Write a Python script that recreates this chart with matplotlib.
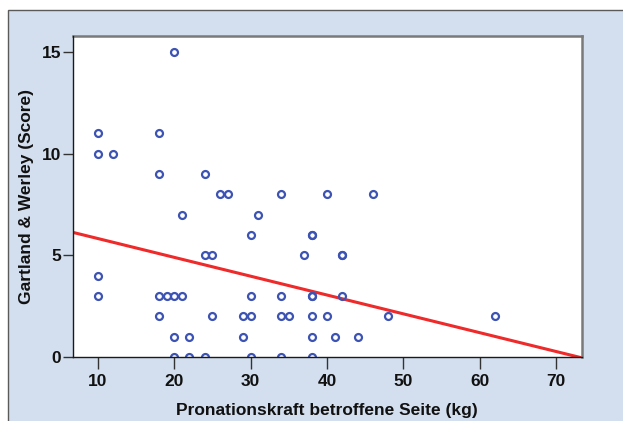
import matplotlib
matplotlib.use("Agg")
import matplotlib.pyplot as plt
from matplotlib.patches import Rectangle
import numpy as np

# Data: (Pronationskraft kg, Gartland & Werley score)
force = [10, 10, 12, 10, 10,
         18, 18, 18, 18, 20,
         19, 20, 21, 21, 20, 22,
         20, 22, 24, 24, 26, 27,
         24, 25, 25, 30, 31, 30,
         29, 30, 29, 30, 34, 34,
         34, 35, 34, 37, 38, 38,
         38, 38, 38, 38, 38, 40,
         40, 41, 42, 42, 42, 44,
         46, 48, 62]
score = [11, 10, 10, 4, 3,
         11, 9, 3, 2, 15,
         3, 3, 3, 7, 1, 1,
         0, 0, 0, 9, 8, 8,
         5, 5, 2, 6, 7, 3,
         2, 2, 1, 0, 8, 3,
         2, 2, 0, 5, 6, 6,
         3, 3, 2, 1, 0, 8,
         2, 1, 5, 5, 3, 1,
         8, 2, 2]

x_ticks = [10, 20, 30, 40, 50, 60, 70]
y_ticks = [0, 5, 10, 15]
x_label = "Pronationskraft betroffene Seite (kg)"
y_label = "Gartland & Werley (Score)"

# Regression line as drawn in the reference (intercept, slope)
fit_intercept = 6.75
fit_slope = -0.0926

plt.rcParams['font.family'] = ['Liberation Sans', 'DejaVu Sans']

W, H = 623, 421
fig = plt.figure(figsize=(W / 100, H / 100), dpi=100)
fig.patch.set_facecolor('white')
panel = Rectangle((7.5 / W, -0.01), 1.02, 1 - 10.5 / H + 0.01,
                  transform=fig.transFigure, facecolor='#d3dfee',
                  edgecolor='#5a5a5a', linewidth=1.0, zorder=-10)
fig.patches.append(panel)

ax = fig.add_axes([72.5 / W, 1 - 357 / H, (581.5 - 72.5) / W, (357 - 35.5) / H])
ax.set_facecolor('white')
ax.set_zorder(1)

xlim = (6.7, 73.3)
ylim = (0, 15.8)
ax.set_xlim(*xlim)
ax.set_ylim(*ylim)

xs = np.array(xlim)
ax.plot(xs, fit_intercept + fit_slope * xs, color='#ee2a2a', lw=2.2, zorder=2,
        solid_capstyle='butt')

ax.plot(force, score, linestyle='none', marker='o', markersize=5.0,
        markerfacecolor='none', markeredgecolor='#3d53b4', markeredgewidth=1.6,
        zorder=3, clip_on=True)

for side in ['left', 'bottom']:
    ax.spines[side].set_color('#1a1a1a')
    ax.spines[side].set_linewidth(1.0)
    ax.spines[side].set_zorder(4)
for side in ['top', 'right']:
    ax.spines[side].set_color('#7a7a7a')
    ax.spines[side].set_linewidth(1.8)

ax.set_xticks(x_ticks)
ax.set_yticks(y_ticks)
ax.tick_params(axis='x', direction='out', length=8.5, width=1.0, color='#333333',
               labelsize=12.5, pad=4)
ax.tick_params(axis='y', direction='out', length=7.5, width=1.0, color='#333333',
               labelsize=12.5, pad=0.5)
for lab in ax.get_xticklabels() + ax.get_yticklabels():
    lab.set_fontweight('bold')
    lab.set_color('#111111')

ax.set_xlabel(x_label, fontsize=12.5, fontweight='bold', labelpad=10, color='#111111')
ax.set_ylabel(y_label, fontsize=12.5, fontweight='bold', labelpad=6, color='#111111')

fig.savefig('out.png', dpi=100, facecolor=fig.get_facecolor())
